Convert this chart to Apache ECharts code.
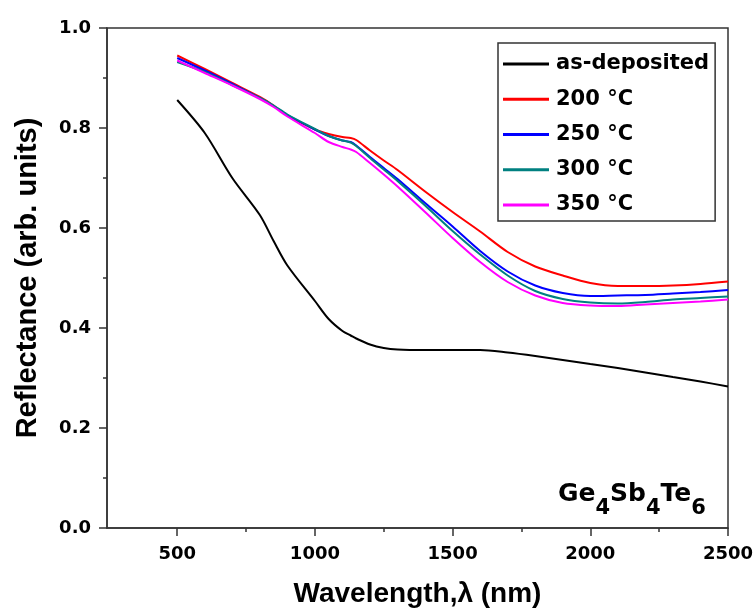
<!DOCTYPE html>
<html>
<head>
<meta charset="utf-8">
<script src="https://cdn.jsdelivr.net/npm/echarts@6/dist/echarts.min.js"></script>
<style>html,body{margin:0;padding:0;background:#fff}#c{width:755px;height:608px}</style>
</head>
<body>
<div id="c"></div>
<script>
const wavelength = [500,600,700,800,850,900,1000,1050,1100,1130,1150,1200,1250,1300,1400,1500,1600,1700,1800,1900,2000,2100,2200,2300,2400,2500];
const asDeposited = [0.856,0.790,0.700,0.626,0.574,0.525,0.454,0.418,0.394,0.385,0.379,0.367,0.360,0.357,0.356,0.356,0.356,0.351,0.344,0.336,0.328,0.320,0.311,0.302,0.293,0.283];
const t200 = [0.945,0.918,0.890,0.862,0.845,0.825,0.797,0.788,0.782,0.780,0.776,0.755,0.735,0.716,0.673,0.632,0.593,0.552,0.523,0.505,0.490,0.484,0.484,0.485,0.488,0.493];
const t250 = [0.940,0.915,0.888,0.860,0.844,0.826,0.797,0.784,0.775,0.772,0.765,0.742,0.720,0.698,0.650,0.603,0.554,0.513,0.485,0.470,0.464,0.465,0.466,0.469,0.472,0.476];
const t300 = [0.932,0.912,0.886,0.860,0.845,0.827,0.798,0.784,0.775,0.771,0.764,0.740,0.717,0.694,0.645,0.594,0.547,0.505,0.474,0.458,0.451,0.449,0.452,0.457,0.460,0.463];
const t350 = [0.935,0.910,0.885,0.858,0.842,0.823,0.790,0.772,0.762,0.757,0.752,0.730,0.707,0.683,0.632,0.580,0.532,0.492,0.465,0.450,0.445,0.444,0.447,0.450,0.453,0.457];
const seriesNames = ['as-deposited','200 °C','250 °C','300 °C','350 °C'];
const seriesColors = ['#000000','#ff0000','#0000ff','#008080','#ff00ff'];
const xMajorTicks = [500,1000,1500,2000,2500];
const xMinorTicks = [750,1250,1750,2250];
const yMajorTicks = [0,0.2,0.4,0.6,0.8,1.0];
const yMinorTicks = [0.1,0.3,0.5,0.7,0.9];
const xTitle = 'Wavelength,λ (nm)';
const yTitle = 'Reflectance (arb. units)';

const allValues = [asDeposited,t200,t250,t300,t350];
const chart = echarts.init(document.getElementById('c'), null, {renderer:'canvas'});
const tickFont = {fontFamily:'DejaVu Sans', fontWeight:'bold', fontSize:18, color:'#000'};
const axisLine = {show:true, lineStyle:{color:'#333', width:1.5}};

const option = {
  animation:false,
  backgroundColor:'#fff',
  grid:{left:107, right:27, top:28, bottom:80, show:true, borderColor:'#333', borderWidth:1.5,
        containLabel:false, outerBoundsMode:'none'},
  xAxis:[
    {type:'value', min:245, max:2500, position:'bottom',
     axisLine:axisLine, splitLine:{show:false},
     axisTick:{show:true, length:8, inside:false, customValues:xMajorTicks, lineStyle:{color:'#333', width:1.5}},
     axisLabel:{show:true, margin:17, customValues:xMajorTicks, formatter:v=>String(v), ...tickFont},
     name:xTitle, nameLocation:'middle', nameGap:52,
     nameTextStyle:{fontFamily:'Liberation Sans', fontWeight:'bold', fontSize:28, color:'#000'}},
    {type:'value', min:245, max:2500, position:'bottom',
     axisLine:{show:false}, splitLine:{show:false},
     axisTick:{show:true, length:4, customValues:xMinorTicks, lineStyle:{color:'#333', width:1.5}},
     axisLabel:{show:false}}
  ],
  yAxis:[
    {type:'value', min:0, max:1, position:'left',
     axisLine:axisLine, splitLine:{show:false},
     axisTick:{show:true, length:8, customValues:yMajorTicks, lineStyle:{color:'#333', width:1.5}},
     axisLabel:{show:true, margin:16, customValues:yMajorTicks, formatter:v=>v.toFixed(1), ...tickFont},
     name:yTitle, nameLocation:'middle', nameGap:65, nameRotate:90,
     nameTextStyle:{fontFamily:'Liberation Sans', fontWeight:'bold', fontSize:29, color:'#000'}},
    {type:'value', min:0, max:1, position:'left',
     axisLine:{show:false}, splitLine:{show:false},
     axisTick:{show:true, length:4, customValues:yMinorTicks, lineStyle:{color:'#333', width:1.5}},
     axisLabel:{show:false}}
  ],
  legend:{
    orient:'vertical', left:498, top:43,
    padding:[10,6,5,5], itemGap:13.25, itemWidth:46, itemHeight:3, icon:'rect',
    borderColor:'#333', borderWidth:1.5, backgroundColor:'#fff',
    data:seriesNames,
    textStyle:{fontFamily:'DejaVu Sans', fontWeight:'bold', fontSize:21, color:'#000', lineHeight:22, padding:[0,0,0,2]}
  },
  graphic:[
    {type:'text', left:558, top:482, z:10,
     style:{
       text:'{b|Ge}{s|4}{b|Sb}{s|4}{b|Te}{s|6}',
       rich:{
         b:{fontFamily:'DejaVu Sans', fontWeight:'bold', fontSize:25, color:'#000', lineHeight:26, verticalAlign:'top'},
         s:{fontFamily:'DejaVu Sans', fontWeight:'bold', fontSize:21, color:'#000', lineHeight:54}
       }
     }}
  ],
  series: seriesNames.map((n,i)=>({
    name:n, type:'line', xAxisIndex:0, yAxisIndex:0,
    data: wavelength.map((w,j)=>[w, allValues[i][j]]),
    showSymbol:false, symbol:'none', smooth:0.3,
    lineStyle:{color:seriesColors[i], width:2},
    itemStyle:{color:seriesColors[i]}
  }))
};
chart.setOption(option);
</script>
</body>
</html>
